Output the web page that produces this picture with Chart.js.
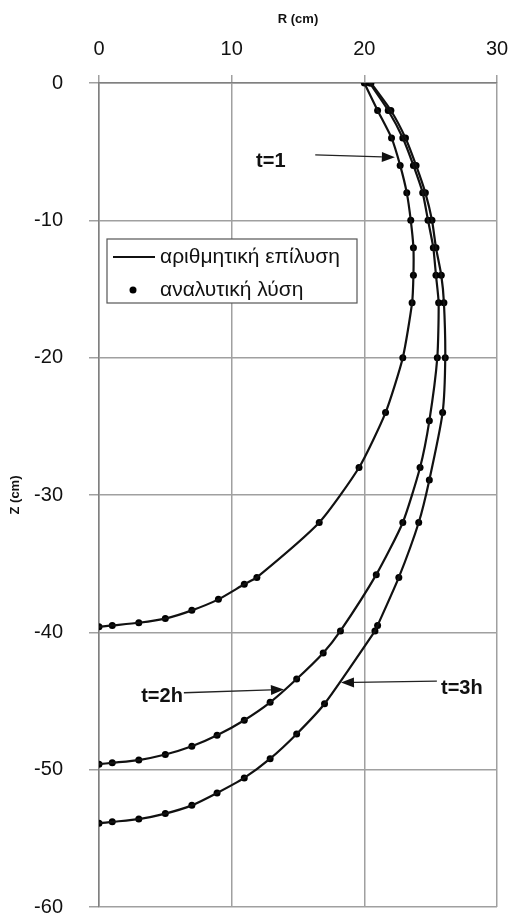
<!DOCTYPE html>
<html>
<head>
<meta charset="utf-8">
<script src="https://cdn.jsdelivr.net/npm/chart.js@4/dist/chart.umd.min.js"></script>
<style>
  body { margin: 0; background: #fff; }
  #wrap { width: 510px; height: 919px; }
</style>
</head>
<body>
<div id="wrap"><canvas id="myChart" width="510" height="919"></canvas></div>
<script>
// R (cm) and Z (cm), one pair of arrays per time step
var r_t1 = [20.0, 21.0, 22.05, 22.7, 23.2, 23.5, 23.7, 23.7, 23.6, 22.9, 21.6, 19.6, 16.6, 11.9, 10.95, 9.0, 7.0, 5.0, 3.0, 1.0, 0];
var z_t1 = [0, -2, -4, -6, -8, -10, -12, -14, -16, -20, -24, -28, -32, -36, -36.5, -37.6, -38.4, -39.0, -39.3, -39.5, -39.6];

var r_t2 = [20.4, 21.8, 22.9, 23.7, 24.4, 24.8, 25.2, 25.4, 25.6, 25.5, 24.9, 24.2, 22.9, 20.9, 18.2, 16.9, 14.9, 12.9, 10.95, 8.9, 7.0, 5.0, 3.0, 1.0, 0];
var z_t2 = [0, -2, -4, -6, -8, -10, -12, -14, -16, -20, -24.6, -28, -32, -35.8, -39.9, -41.5, -43.4, -45.1, -46.4, -47.5, -48.3, -48.9, -49.3, -49.5, -49.6];

var r_t3 = [20.5, 22.0, 23.1, 23.9, 24.6, 25.1, 25.4, 25.8, 26.0, 26.1, 25.9, 24.9, 24.1, 22.6, 21.0, 20.8, 17.0, 14.9, 12.9, 10.95, 8.9, 7.0, 5.0, 3.0, 1.0, 0];
var z_t3 = [0, -2, -4, -6, -8, -10, -12, -14, -16, -20, -24, -28.9, -32, -36, -39.5, -39.9, -45.2, -47.4, -49.2, -50.6, -51.7, -52.6, -53.2, -53.6, -53.8, -53.9];

var xTicks = [0, 10, 20, 30];
var yTicks = [0, -10, -20, -30, -40, -50, -60];

var legendLabels = ['αριθμητική επίλυση', 'αναλυτική λύση'];

// curve labels: text spot and arrow (from -> to), in R/Z units
var curveLabels = [
  { text: 't=1',  at: [12.95, -5.75], from: [16.3, -5.24], to: [22.3, -5.41] },
  { text: 't=2h', at: [4.75, -44.7],  from: [6.4, -44.4],  to: [13.94, -44.16] },
  { text: 't=3h', at: [27.35, -44.1], from: [25.47, -43.55], to: [18.24, -43.66] }
];

function pts(r, z) {
  return r.map(function (v, i) { return { x: v, y: z[i] }; });
}

var FONT = "'Liberation Sans', Arial, sans-serif";

function lineSet(r, z) {
  return { label: legendLabels[0], data: pts(r, z), showLine: true, pointRadius: 0,
           borderColor: '#111', borderWidth: 2.2, tension: 0.2, fill: false };
}
function dotSet(r, z) {
  return { label: legendLabels[1], data: pts(r, z), showLine: false, pointRadius: 3.5,
           pointBackgroundColor: '#000', pointBorderColor: '#000', pointBorderWidth: 0 };
}

// legend box and the t= labels with arrows
var overlay = {
  id: 'overlay',
  afterDatasetsDraw: function (chart) {
    var ctx = chart.ctx, xs = chart.scales.x, ys = chart.scales.y;
    ctx.save();

    // legend
    ctx.fillStyle = '#fff';
    ctx.fillRect(107, 239, 250, 64);
    ctx.strokeStyle = '#555';
    ctx.lineWidth = 1.2;
    ctx.strokeRect(107, 239, 250, 64);
    ctx.strokeStyle = '#111';
    ctx.lineWidth = 2;
    ctx.beginPath(); ctx.moveTo(113, 257); ctx.lineTo(155, 257); ctx.stroke();
    ctx.fillStyle = '#000';
    ctx.beginPath(); ctx.arc(133, 290, 3.5, 0, Math.PI * 2); ctx.fill();
    ctx.fillStyle = '#111';
    ctx.font = '21px ' + FONT;
    ctx.textBaseline = 'middle';
    ctx.textAlign = 'left';
    ctx.fillText(legendLabels[0], 160, 257);
    ctx.fillText(legendLabels[1], 160, 290);

    // annotations
    ctx.font = 'bold 20px ' + FONT;
    ctx.textAlign = 'center';
    curveLabels.forEach(function (c) {
      var tx = xs.getPixelForValue(c.at[0]), ty = ys.getPixelForValue(c.at[1]);
      var x1 = xs.getPixelForValue(c.from[0]), y1 = ys.getPixelForValue(c.from[1]);
      var x2 = xs.getPixelForValue(c.to[0]), y2 = ys.getPixelForValue(c.to[1]);
      ctx.fillStyle = '#111';
      ctx.fillText(c.text, tx, ty);
      var ang = Math.atan2(y2 - y1, x2 - x1), len = 13, half = 5;
      var bx = x2 - len * Math.cos(ang), by = y2 - len * Math.sin(ang);
      ctx.strokeStyle = '#222';
      ctx.lineWidth = 1.3;
      ctx.beginPath(); ctx.moveTo(x1, y1); ctx.lineTo(bx, by); ctx.stroke();
      ctx.beginPath();
      ctx.moveTo(x2, y2);
      ctx.lineTo(bx + half * Math.sin(ang), by - half * Math.cos(ang));
      ctx.lineTo(bx - half * Math.sin(ang), by + half * Math.cos(ang));
      ctx.closePath();
      ctx.fillStyle = '#111';
      ctx.fill();
    });
    ctx.restore();
  }
};

var rzChart = document.getElementById('myChart');
let myChart = new Chart(rzChart, {
  type: 'scatter',
  data: {
    datasets: [
      lineSet(r_t1, z_t1), lineSet(r_t2, z_t2), lineSet(r_t3, z_t3),
      dotSet(r_t1, z_t1), dotSet(r_t2, z_t2), dotSet(r_t3, z_t3)
    ]
  },
  options: {
    responsive: false,
    animation: false,
    layout: { padding: { top: 0, left: 0, right: 13, bottom: 12 } },
    plugins: { legend: { display: false }, tooltip: { enabled: false } },
    scales: {
      x: {
        type: 'linear', position: 'top', min: 0, max: 30,
        afterFit: function (s) { s.height = 83; s.paddingLeft = 0; s.paddingRight = 0; },
        afterBuildTicks: function (s) { s.ticks = xTicks.map(function (v) { return { value: v }; }); },
        ticks: { color: '#111', font: { family: FONT, size: 20 }, padding: 14, maxRotation: 0 },
        grid: { color: '#a0a0a0', lineWidth: 1.5, tickLength: 8 },
        border: { color: '#808080', width: 1.5 },
        title: { display: true, text: 'R (cm)', color: '#111',
                 font: { family: FONT, size: 13, weight: 'bold' }, padding: { top: 12, bottom: 0 } }
      },
      y: {
        type: 'linear', min: -60, max: 0,
        afterFit: function (s) { s.width = 99; s.paddingTop = 0; s.paddingBottom = 0; },
        afterBuildTicks: function (s) { s.ticks = yTicks.map(function (v) { return { value: v }; }); },
        ticks: { color: '#111', font: { family: FONT, size: 20 }, padding: 26 },
        grid: { color: '#a0a0a0', lineWidth: 1.5, tickLength: 10 },
        border: { color: '#808080', width: 1.5 },
        title: { display: true, text: 'Z (cm)', color: '#111',
                 font: { family: FONT, size: 13, weight: 'bold' }, padding: { top: 8, bottom: 0 } }
      }
    }
  },
  plugins: [overlay]
});
</script>
</body>
</html>
